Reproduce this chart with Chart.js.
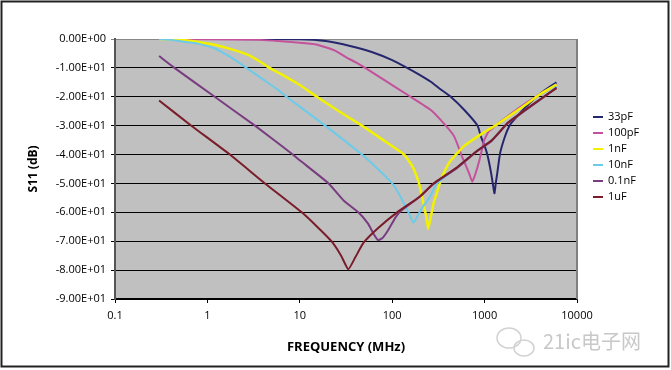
<!DOCTYPE html>
<html>
<head>
<meta charset="utf-8">
<script src="https://cdn.jsdelivr.net/npm/chart.js@4.4.1/dist/chart.umd.min.js"></script>
<style>
  html, body { margin: 0; padding: 0; background: #fff; }
  #wrap { position: relative; width: 671px; height: 370px; }
</style>
</head>
<body>
<div id="wrap"><canvas id="s11Chart" width="671" height="370"></canvas></div>
<script>
// Series: frecuencia (MHz) y S11 (dB)
const seriesLabels = ['33pF', '100pF', '1nF', '10nF', '0.1nF', '1uF'];
const seriesColors = ['#26266f', '#c4519c', '#f2f200', '#6ccbe8', '#7a3c80', '#7a1c2a'];

const freq33pF = [0.3, 10, 20, 35, 60, 100, 145, 200, 262, 330, 430, 600, 840, 913, 1000, 1070, 1170, 1240, 1280, 1320, 1370, 1470, 1650, 1840, 2000, 3000, 4140, 6000];
const s11_33pF = [0, -0.1, -0.8, -2.4, -4.5, -7.3, -10, -12.5, -14.8, -17.3, -20, -24.5, -30, -33.8, -37, -40, -46, -51, -53.4, -50, -46.5, -39.6, -34, -30.3, -28.6, -22.5, -18.5, -15];

const freq100pF = [0.3, 3.5, 10, 15, 24, 32.5, 40, 51, 80, 158, 262, 380, 470, 570, 680, 735, 790, 880, 990, 1110, 1500, 2700, 4140, 6000];
const s11_100pF = [0, -0.3, -1.3, -1.9, -4, -6.5, -8, -10, -14, -20, -24.6, -30, -33.8, -40.7, -46.5, -49.4, -47, -41.9, -35, -32, -28.5, -22.5, -18.8, -15.8];

const freq1nF = [0.3, 0.52, 0.8, 1.2, 1.8, 2.76, 3.7, 4.7, 7, 10, 15.3, 25, 47, 80, 134, 165, 195, 215, 235, 245, 260, 280, 306, 335, 360, 420, 600, 913, 1370, 2450, 4140, 6000];
const s11_1nF = [0, -0.3, -1, -2, -3.5, -5.5, -7.8, -10, -13, -15.9, -20, -24.5, -30, -35, -40, -44, -50, -56, -62, -65.7, -62, -57, -53, -49, -46.5, -42.5, -37, -33, -29.5, -24, -18.8, -15.8];

const freq10nF = [0.3, 0.4, 0.52, 0.79, 1.2, 1.5, 2, 2.64, 4, 5.8, 7.2, 10, 18.8, 30, 47, 70, 100, 125, 150, 170, 190, 215, 240, 262, 300, 500, 805, 1200, 1780, 2500, 4140, 6000];
const s11_10nF = [0, -0.3, -0.8, -1.6, -3.3, -4.9, -7.3, -10, -14, -17.6, -20, -23.4, -30, -35, -40, -45, -50, -55, -60, -63.6, -61, -58, -56, -54, -50.3, -44.5, -39, -35, -29, -25.5, -20.5, -16.5];

const freq01nF = [0.3, 0.44, 1.2, 3.27, 8.4, 10, 20.5, 30, 43, 55, 63, 70, 78, 91, 110, 124, 200, 280, 500, 805, 1200, 1780, 2500, 4140, 6000];
const s11_01nF = [-5.9, -10, -20, -30, -40, -42, -50, -56, -60, -64, -67.5, -69.6, -69, -66, -61.5, -59.5, -54.5, -50.2, -44.7, -39.2, -35.2, -29.2, -25.7, -20.7, -16.8];

const freq1uF = [0.3, 0.67, 1.75, 4.2, 10.5, 16, 22, 28, 33.5, 40, 49, 70, 113, 200, 280, 500, 805, 1200, 1780, 2500, 4140, 6000];
const s11_1uF = [-21.3, -30, -40, -50, -60, -65.5, -70, -75, -79.7, -75.5, -70.5, -65.5, -60, -54.5, -50, -44.5, -39, -35, -29, -25.5, -20.5, -17];

const xTicks = [0.1, 1, 10, 100, 1000, 10000];
const yMin = -90, yMax = 0, yStep = 10;

const seriesFreq = [freq33pF, freq100pF, freq1nF, freq10nF, freq01nF, freq1uF];
const seriesS11 = [s11_33pF, s11_100pF, s11_1nF, s11_10nF, s11_01nF, s11_1uF];

// Formato 0.00E+00
function sci(v) {
  if (v === 0) return '0.00E+00';
  const e = Math.floor(Math.log10(Math.abs(v)) + 1e-9);
  const m = v / Math.pow(10, e);
  return m.toFixed(2) + 'E' + (e < 0 ? '-' : '+') + String(Math.abs(e)).padStart(2, '0');
}

const FONT = '"Open Sans", sans-serif';

const datasets = seriesLabels.map((label, i) => ({
  label: label,
  data: seriesFreq[i].map((f, j) => ({ x: f, y: seriesS11[i][j] })),
  borderColor: seriesColors[i],
  backgroundColor: seriesColors[i],
  borderWidth: i === 2 ? 2.5 : 2,
  pointRadius: 0,
  tension: 0.15,
  fill: false,
  order: seriesLabels.length - i
}));

// Fondo gris del area de trazado y marco
const framePlugin = {
  id: 'marco',
  beforeDraw(chart) {
    const { ctx, chartArea: a } = chart;
    ctx.save();
    ctx.fillStyle = '#fff';
    ctx.fillRect(0, 0, chart.width, chart.height);
    ctx.fillStyle = '#c0c0c0';
    ctx.fillRect(a.left, a.top, a.right - a.left, a.bottom - a.top);
    ctx.restore();
  },
  afterDraw(chart) {
    const { ctx, chartArea: a } = chart;
    ctx.save();
    ctx.strokeStyle = '#808080';
    ctx.lineWidth = 2;
    ctx.beginPath();
    ctx.moveTo(a.right, a.top);
    ctx.lineTo(a.right, a.bottom);
    ctx.stroke();

    // leyenda
    ctx.font = '11px ' + FONT;
    ctx.textBaseline = 'middle';
    chart.data.datasets.forEach((ds, i) => {
      const y = 117 + i * 16;
      ctx.strokeStyle = ds.borderColor;
      ctx.lineWidth = 2;
      ctx.beginPath();
      ctx.moveTo(593, y);
      ctx.lineTo(603, y);
      ctx.stroke();
      ctx.fillStyle = '#000';
      ctx.fillText(ds.label, 608, y);
    });

    // marca de agua
    ctx.strokeStyle = '#d2d2d2';
    ctx.lineWidth = 1.5;
    ctx.beginPath();
    ctx.ellipse(509, 338, 12, 10, 0, 0, Math.PI * 2);
    ctx.stroke();
    ctx.beginPath();
    ctx.ellipse(524, 348, 10, 8, 0, 0, Math.PI * 2);
    ctx.stroke();
    ctx.fillStyle = '#c8c8c8';
    ctx.font = '20px "Noto Sans CJK SC", sans-serif';
    ctx.textBaseline = 'middle';
    ctx.fillText('21ic电子网', 543, 341);

    // borde exterior
    ctx.strokeStyle = '#222';
    ctx.lineWidth = 2;
    ctx.strokeRect(1.5, 1.5, 667, 365);
    ctx.restore();
  }
};

new Chart(document.getElementById('s11Chart'), {
  type: 'line',
  data: { datasets: datasets },
  options: {
    responsive: false,
    animation: false,
    devicePixelRatio: 1,
    layout: { padding: { top: 39, right: 94, bottom: 0, left: 0 } },
    plugins: {
      legend: { display: false },
      tooltip: { enabled: false }
    },
    scales: {
      x: {
        type: 'logarithmic',
        min: xTicks[0],
        max: xTicks[xTicks.length - 1],
        afterBuildTicks: (scale) => { scale.ticks = xTicks.map(v => ({ value: v })); },
        afterFit: (scale) => { scale.height = 71; },
        grid: { drawOnChartArea: false, drawTicks: true, tickLength: 4, color: '#000' },
        border: { display: true, color: '#000', width: 1.5 },
        ticks: {
          autoSkip: false,
          maxRotation: 0,
          padding: 6,
          color: '#000',
          font: { family: FONT, size: 11 },
          callback: (v) => String(v)
        },
        title: {
          display: true,
          text: 'FREQUENCY (MHz)',
          color: '#000',
          font: { family: FONT, size: 13, weight: 'bold' },
          padding: { top: 0, bottom: 15 }
        }
      },
      y: {
        min: yMin,
        max: yMax,
        afterFit: (scale) => { scale.width = 115; },
        grid: {
          color: (c) => (c.tick && c.tick.value === 0 ? '#888' : '#000'),
          lineWidth: 1,
          tickLength: 4
        },
        border: { display: true, color: '#555', width: 2 },
        ticks: {
          stepSize: yStep,
          padding: 5,
          color: '#000',
          font: { family: FONT, size: 11 },
          callback: (v) => sci(v)
        },
        title: {
          display: true,
          text: 'S11 (dB)',
          color: '#000',
          font: { family: FONT, size: 12, weight: 'bold' },
          padding: { top: 26, bottom: 0 }
        }
      }
    }
  },
  plugins: [framePlugin]
});
</script>
</body>
</html>
